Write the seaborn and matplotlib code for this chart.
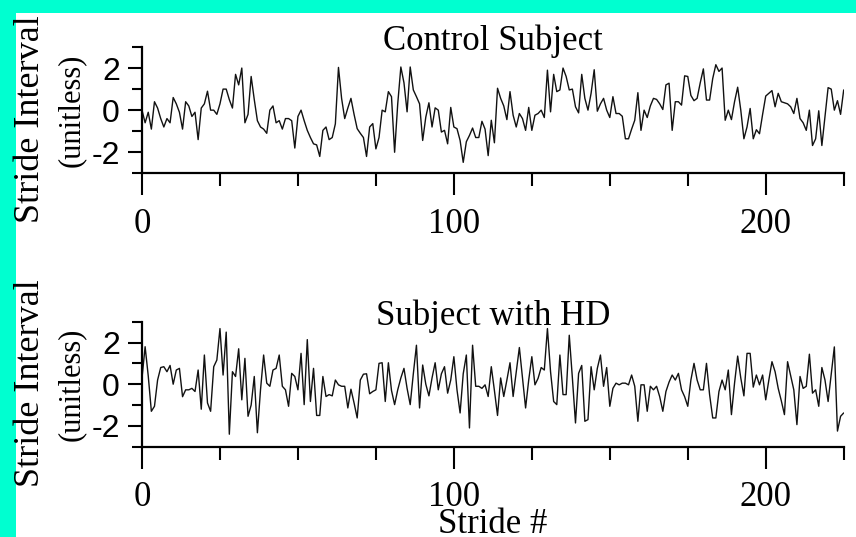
import matplotlib
matplotlib.use("Agg")
import matplotlib.pyplot as plt
from matplotlib.patches import Rectangle
from matplotlib.ticker import FixedLocator, NullFormatter
import numpy as np
import pandas as pd
import seaborn as sns

# Normalised stride-interval series (one value per stride)
control = [
    0.0, -0.6, -0.1, -0.9, 0.4, 0.1, -0.4, -0.8, -0.4, -0.6,
    0.6, 0.3, -0.1, -0.9, 0.4, 0.2, -0.3, -0.1, -1.4, 0.1,
    0.3, 0.9, 0.0, 0.0, -0.2, 0.3, 1.0, 1.0, 0.5, 0.1,
    1.7, 1.2, 2.0, -0.6, -0.2, 1.6, 0.5, -0.5, -0.8, -0.9,
    -1.1, 0.0, 0.2, -0.6, -0.5, -0.9, -0.4, -0.4, -0.5, -1.8,
    -0.3, 0.0, -0.5, -0.96, -1.3, -1.6, -1.65, -2.2, -0.96, -0.8,
    -1.4, -1.3, -0.65, 2.03, 0.56, -0.4, 0.1, 0.56, -0.2, -0.88,
    -1.1, -1.3, -2.2, -0.8, -0.64, -1.84, -1.3, 0.0, -0.08, 0.88,
    0.64, -2.0, 0.3, 2.05, 1.3, -0.08, 2.05, 0.96, 0.64, 0.3,
    -1.44, -0.33, 0.35, -0.8, 0.11, 0.0, -1.04, -0.96, -1.6, 0.13,
    -0.8, -0.88, -1.44, -2.48, -1.5, -1.2, -0.85, -1.3, -1.3, -0.53,
    -0.9, -2.16, -0.48, -1.55, 1.04, 0.56, 0.2, -0.45, 0.88, -0.24,
    -0.8, -0.16, -0.4, -0.96, 0.13, -0.96, -0.24, -0.16, 0.0, -0.35,
    1.9, -0.08, 1.7, 0.88, 0.96, 2.0, 1.6, 0.96, 1.0, 0.16,
    -0.13, 1.7, 0.56, 0.0, 0.8, 1.92, -0.05, 0.3, 0.56, 0.0,
    -0.35, 0.64, -0.16, -0.16, -0.29, -1.36, -1.36, -0.9, -0.48, 0.83,
    -0.96, 0.0, -0.35, 0.2, 0.56, 0.51, 0.3, 0.03, 1.2, 1.28,
    -0.96, 0.4, 0.4, 0.24, 1.63, 1.6, 0.7, 0.45, 0.56, 1.3,
    1.96, 0.48, 0.48, 1.5, 2.16, 1.84, 2.0, -0.48, 0.0, -0.45,
    0.4, 1.09, 0.0, -1.36, -0.8, 0.08, -1.36, -0.93, -1.12, -0.2,
    0.67, 0.8, 0.93, 0.16, 0.8, 0.4, 0.35, 0.3, 0.16, -0.16,
    0.56, -0.4, -0.6, -0.96, 0.0, -1.68, -1.36, -0.03, -1.68, -0.3,
    1.07, 1.0, 0.0, 0.45, -0.2, 0.96,
]

hd = [
    0.3, 1.8, 0.4, -1.3, -1.06, 0.2, 0.8, 0.84, 0.6, 0.9,
    0.0, 0.68, 0.76, -0.6, -0.27, -0.27, -0.2, -0.35, 0.68, -1.2,
    1.4, -0.9, -1.3, 0.84, 1.16, 2.67, 0.44, 2.5, -2.4, 0.6,
    0.37, 1.7, -0.75, 1.24, -1.54, -1.0, 0.37, -2.33, -0.27, 1.4,
    0.05, -0.1, 0.68, 0.76, 1.4, -0.1, -0.27, -1.06, 0.52, 0.37,
    -0.27, 1.48, -0.98, 2.14, -0.83, 0.76, -1.5, -1.5, 0.37, -0.59,
    -0.5, -0.56, 0.2, -0.03, -0.1, -0.1, -1.14, -0.24, -0.9, -1.62,
    0.2, 0.48, 0.5, -0.46, -0.35, -0.27, 1.0, 1.03, -0.83, 1.03,
    -0.3, -0.98, -0.27, 0.3, 0.76, -0.2, -0.98, 0.5, 1.87, -1.14,
    0.92, 0.0, -0.56, 0.3, 1.03, -0.27, 0.5, 0.84, -0.43, 0.2,
    1.32, -0.27, -1.38, 0.5, 1.4, -2.1, 1.87, -0.1, -0.1, -0.2,
    -0.03, -0.59, 0.84, -0.3, -1.5, 0.3, -0.59, 0.2, 1.03, -0.59,
    0.6, 1.76, 0.3, -1.14, 0.2, 1.32, -0.03, 0.28, 0.8, 0.68,
    2.67, 0.6, -0.83, -0.98, 1.4, -0.5, -0.5, 2.35, 0.3, -1.86,
    0.52, 0.9, -1.78, -1.7, 0.84, -0.27, 0.76, 1.4, -0.1, 0.8,
    -1.06, -0.2, 0.05, -0.03, 0.05, 0.05, -0.03, 0.44, -0.1, -1.78,
    -0.03, -0.03, -1.3, -0.1, -0.27, -0.1, -0.6, -1.3, -0.35, 0.1,
    0.44, 0.2, 0.52, -0.27, -0.6, -1.06, 0.2, 1.0, 0.2, -0.27,
    -0.27, 1.0, -0.5, -1.62, -1.62, -0.35, 0.2, -0.27, 0.68, -1.46,
    0.05, 1.35, 0.3, -0.56, 1.48, 1.48, -0.14, 0.44, -0.03, 0.44,
    -0.75, 0.2, 1.08, 0.6, -0.2, -0.8, -1.46, 1.08, 0.4, -0.27,
    -1.94, 0.37, -0.2, -0.1, 1.44, -0.43, -0.27, -1.06, 0.8, 0.2,
    -0.83, 0.5, 1.79, -2.25, -1.54, -1.38,
]

titles = ["Control Subject", "Subject with HD"]
x_major = [0, 100, 200]
x_minor = [25, 50, 75, 125, 150, 175, 225]
y_major = [-2, 0, 2]
y_minor = [-3, -1, 1, 3]

sns.set_theme(style="ticks")
SERIF = ["Liberation Serif", "DejaVu Serif"]
SANS = ["Liberation Sans", "DejaVu Sans"]
plt.rcParams["font.family"] = SERIF
plt.rcParams["text.color"] = "black"

W, H = 856, 537
fig = plt.figure(figsize=(W / 100, H / 100), dpi=100, facecolor="#00FFD0")
fig.patches.append(Rectangle((16 / W, 0), 1 - 16 / W, (H - 13) / H,
                             transform=fig.transFigure, facecolor="white",
                             edgecolor="none", zorder=-10))

# axes boxes in pixels: (left, top, right, bottom)
boxes = [(142, 47, 843.7, 173.3), (142, 321.7, 843.7, 446.7)]
series = [control, hd]

for i, (box, vals, title) in enumerate(zip(boxes, series, titles)):
    l, t, r, b = box
    ax = fig.add_axes([l / W, (H - b) / H, (r - l) / W, (b - t) / H])
    ax.set_facecolor("none")
    ax.set_zorder(1)
    df = pd.DataFrame({"stride": np.arange(len(vals)), "value": vals})
    sns.lineplot(data=df, x="stride", y="value", ax=ax, color="#111111",
                 linewidth=1.0)
    ax.set_xlim(0, 225)
    ax.set_ylim(-3, 3)
    sns.despine(ax=ax)
    for s in ("left", "bottom"):
        ax.spines[s].set_linewidth(1.6)
        ax.spines[s].set_color("black")

    ax.xaxis.set_major_locator(FixedLocator(x_major))
    ax.xaxis.set_minor_locator(FixedLocator(x_minor))
    ax.yaxis.set_major_locator(FixedLocator(y_major))
    ax.yaxis.set_minor_locator(FixedLocator(y_minor))
    ax.xaxis.set_minor_formatter(NullFormatter())
    ax.yaxis.set_minor_formatter(NullFormatter())
    ax.set_xticklabels([str(v) for v in x_major])
    ax.set_yticklabels([str(v) for v in y_major])

    ax.tick_params(axis="x", which="major", direction="out", length=15.8,
                   width=1.5, color="black", pad=9, labelsize=25,
                   labelcolor="black")
    ax.tick_params(axis="x", which="minor", direction="out", length=9.4,
                   width=1.5, color="black")
    ax.tick_params(axis="y", which="major", direction="out", length=10,
                   width=1.5, color="black", pad=6, labelsize=23,
                   labelcolor="black")
    ax.tick_params(axis="y", which="minor", direction="out", length=7.2,
                   width=1.5, color="black")
    for lab in ax.get_xticklabels():
        lab.set_family(SERIF)
    for lab in ax.get_yticklabels():
        lab.set_family(SANS)

    ax.set_xlabel("")
    ax.set_ylabel("")
    ax.text(0.5, 0.976, title, transform=ax.transAxes, ha="center",
            va="baseline", fontsize=25, color="black")

    # two-line y label
    cy_main = (t + b) / 2 + (9 if i == 0 else -1)
    fig.text(31 / W, (H - cy_main) / H, "Stride Interval", rotation=90,
             ha="center", va="center", fontsize=26, color="black")
    fig.text(71 / W, (H - (t + b) / 2) / H, "(unitless)", rotation=90,
             ha="center", va="center", fontsize=22, color="black")

    if i == 1:
        ax.set_xlabel("Stride #", fontsize=25, color="black", va="baseline")
        ax.xaxis.set_label_coords(0.5, (b - 533) / (b - t))

fig.savefig("out.png", dpi=100, facecolor=fig.get_facecolor())
